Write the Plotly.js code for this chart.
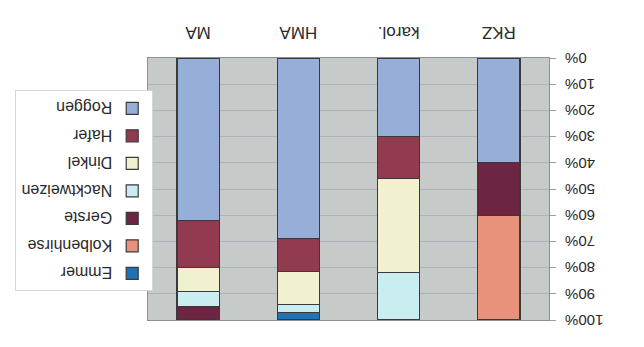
<!DOCTYPE html>
<html>
<head>
<meta charset="utf-8">
<script src="https://cdn.plot.ly/plotly-3.0.1.min.js"></script>
<style>
html,body{margin:0;padding:0;background:#fff;}
#chart{width:644px;height:347px;transform:rotate(180deg);transform-origin:50% 50%;}
</style>
</head>
<body>
<div id="chart"></div>
<script>
const categories = ['RKZ', 'karol.', 'HMA', 'MA'];
const roggen      = [40, 30, 69, 62];
const hafer       = [0, 16, 12.5, 18];
const dinkel      = [0, 36, 12.5, 9];
const nacktweizen = [0, 18, 3, 6];
const gerste      = [20, 0, 0, 5];
const kolbenhirse = [40, 0, 0, 0];
const emmer       = [0, 0, 3, 0];
const yTicks = [0, 10, 20, 30, 40, 50, 60, 70, 80, 90, 100];

const series = [
  ['Roggen', roggen, '#97afd8'],
  ['Hafer', hafer, '#923a50'],
  ['Dinkel', dinkel, '#f1f0cf'],
  ['Nacktweizen', nacktweizen, '#c9edf0'],
  ['Gerste', gerste, '#6c2543'],
  ['Kolbenhirse', kolbenhirse, '#e8917b'],
  ['Emmer', emmer, '#1f72b3']
];

const traces = series.map(([name, vals, col], i) => ({
  type: 'bar',
  name: name,
  x: categories,
  y: vals,
  legendgroup: name,
  legendrank: series.length - i,
  marker: {color: col, line: {color: '#3a3a3a', width: 1.2}},
  hoverinfo: 'name+y'
}));

const layout = {
  width: 644, height: 347,
  margin: {l: 95, r: 148, t: 27, b: 58},
  barmode: 'stack',
  bargap: 0.58,
  paper_bgcolor: '#ffffff',
  plot_bgcolor: '#c6cac8',
  font: {family: '"Liberation Sans", Arial, sans-serif', size: 15, color: '#2a2a2a'},
  xaxis: {
    type: 'category',
    showgrid: false,
    showline: true, mirror: true, linecolor: '#8c9190', linewidth: 1,
    ticks: '',
    ticklabelstandoff: 10,
    tickfont: {size: 17}
  },
  yaxis: {
    range: [0, 100],
    tickvals: yTicks,
    ticktext: yTicks.map(v => v + '%'),
    showgrid: true, gridcolor: '#adb3bb', gridwidth: 1,
    showline: true, mirror: true, linecolor: '#8c9190', linewidth: 1,
    ticks: 'outside', ticklen: 6, tickcolor: '#9aa0a0',
    ticklabelstandoff: 6,
    tickfont: {size: 15},
    zeroline: false
  },
  legend: {
    x: 0.987, xanchor: 'left', y: 0.89, yanchor: 'top',
    traceorder: 'grouped',
    tracegroupgap: 3.7,
    bordercolor: '#d6d6d6', borderwidth: 1,
    bgcolor: '#ffffff',
    font: {size: 16, color: '#2a2a2a'}
  },
  showlegend: true
};

Plotly.newPlot('chart', traces, layout, {staticPlot: true, displayModeBar: false});
</script>
</body>
</html>
